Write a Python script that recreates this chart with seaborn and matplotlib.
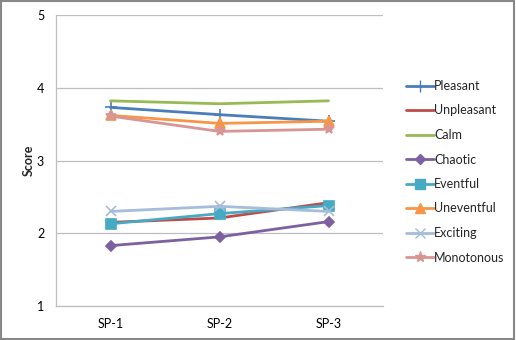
import matplotlib
matplotlib.use("Agg")
import matplotlib.pyplot as plt
import seaborn as sns
import pandas as pd
from matplotlib.patches import Rectangle

# data
positions = ["SP-1", "SP-2", "SP-3"]
pleasant = [3.73, 3.63, 3.54]
unpleasant = [2.15, 2.21, 2.42]
calm = [3.82, 3.78, 3.82]
chaotic = [1.83, 1.95, 2.16]
eventful = [2.13, 2.27, 2.38]
uneventful = [3.62, 3.51, 3.54]
exciting = [2.30, 2.37, 2.30]
monotonous = [3.61, 3.40, 3.43]

names = ["Pleasant", "Unpleasant", "Calm", "Chaotic",
         "Eventful", "Uneventful", "Exciting", "Monotonous"]
series = [pleasant, unpleasant, calm, chaotic,
          eventful, uneventful, exciting, monotonous]
colors = ["#4A7EBB", "#BE4B48", "#98B954", "#7D60A0",
          "#46AAC5", "#F79646", "#A5BDDA", "#D99593"]
markers = ["+", "", "", "D", "s", "^", "x", "*"]
msizes = [9, 0, 0, 5, 7, 7, 7, 8]

rows = []
for n, vals in zip(names, series):
    for p, v in zip(positions, vals):
        rows.append({"pos": p, "score": v, "attr": n})
df = pd.DataFrame(rows)

sns.set_style("white")
plt.rcParams["font.family"] = ["Lato", "DejaVu Sans"]

fig = plt.figure(figsize=(5.16, 3.40), dpi=100)
ax = fig.add_axes([56 / 516, 1 - 306 / 340, 327 / 516, 291 / 340])

sns.lineplot(data=df, x="pos", y="score", hue="attr", hue_order=names,
             palette=colors, ax=ax, linewidth=2, legend=False, sort=False)
for line, m, ms, c in zip(ax.lines, markers, msizes, colors):
    line.set_marker(m if m else "None")
    line.set_markersize(ms)
    line.set_markeredgecolor(c)
    line.set_markerfacecolor(c)
    line.set_markeredgewidth(1.2)

ax.set_ylim(1, 5)
ax.set_xlim(-0.5, 2.5)
ax.set_yticks([1, 2, 3, 4, 5])
ax.yaxis.grid(True, color="#BEBEBE", linewidth=0.9)
ax.xaxis.grid(False)
for s in ["top", "right"]:
    ax.spines[s].set_visible(False)
for s in ["left", "bottom"]:
    ax.spines[s].set_color("#BEBEBE")
    ax.spines[s].set_linewidth(0.9)
ax.tick_params(axis="both", length=0, labelsize=9, colors="black")
ax.tick_params(axis="y", pad=8.5)
ax.tick_params(axis="x", pad=9)
ax.set_xlabel("")
ax.set_ylabel("Score", fontsize=9, fontweight="bold")
ax.yaxis.set_label_coords(-0.066, 0.5)

# legend
handles = []
for n, c, m, ms in zip(names, colors, markers, msizes):
    h, = ax.plot([], [], color=c, linewidth=2, marker=m if m else "None",
                 markersize=ms, markeredgecolor=c, markerfacecolor=c)
    handles.append(h)
fig.legend(handles, names, loc="upper left", bbox_to_anchor=(401 / 516, 1 - 75 / 340),
           frameon=False, fontsize=9, handlelength=2.2, handletextpad=0.05,
           labelspacing=1.0, borderaxespad=0)

fig.patches.append(Rectangle((0.002, 0.003), 0.995, 0.994, transform=fig.transFigure,
                             fill=False, edgecolor="#888888", linewidth=1.5))

fig.savefig("out.png", dpi=100)
